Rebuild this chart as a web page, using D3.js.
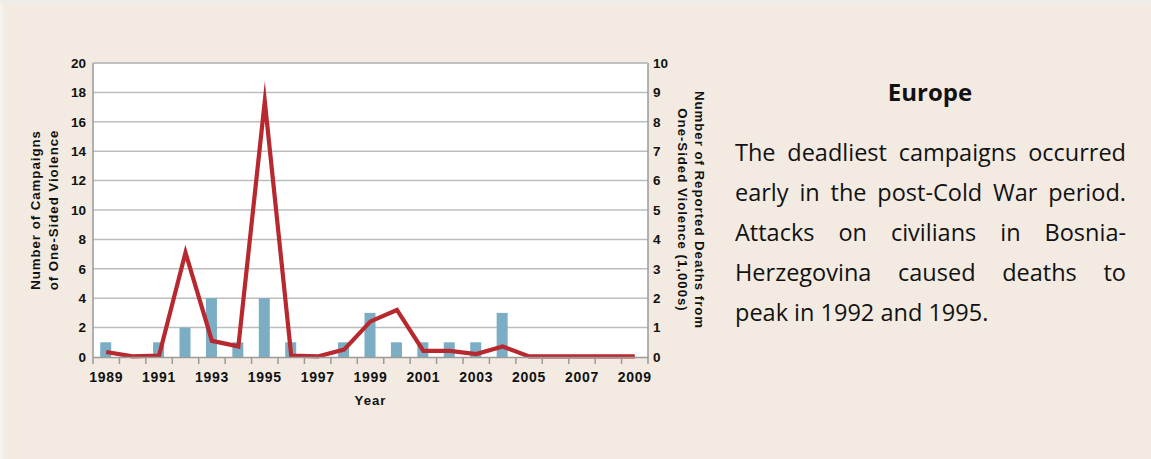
<!DOCTYPE html>
<html>
<head>
<meta charset="utf-8">
<script src="https://cdn.jsdelivr.net/npm/d3@7"></script>
<style>
  html, body { margin: 0; padding: 0; background: #f3ebe2; }
  svg { display: block; }
</style>
</head>
<body>
<script>
// ---- Data ----
const years = d3.range(1989, 2010);
const campaigns = [1, 0, 1, 2, 4, 1, 4, 1, 0, 1, 3, 1, 1, 1, 1, 3, 0, 0, 0, 0, 0];
const deaths = [0.17, 0.02, 0.05, 3.55, 0.55, 0.36, 8.7, 0.05, 0.02, 0.25, 1.21, 1.6, 0.21, 0.21, 0.1, 0.36, 0.02, 0.02, 0.02, 0.02, 0.02];
const leftTicks = [0, 2, 4, 6, 8, 10, 12, 14, 16, 18, 20];
const rightTicks = [0, 1, 2, 3, 4, 5, 6, 7, 8, 9, 10];
const yearLabels = [1989, 1991, 1993, 1995, 1997, 1999, 2001, 2003, 2005, 2007, 2009];
const title = "Europe";
const paragraphLines = [
  "The deadliest campaigns occurred",
  "early in the post-Cold War period.",
  "Attacks on civilians in Bosnia-",
  "Herzegovina caused deaths to",
  "peak in 1992 and 1995."
];

const W = 1151, H = 459;
const plot = { left: 93, right: 648, top: 63, bottom: 357 };

const svg = d3.select("body").append("svg").attr("width", W).attr("height", H);

// panel background with soft shadow edges
const defs = svg.append("defs");
const gTop = defs.append("linearGradient").attr("id", "shTop").attr("x1", 0).attr("x2", 0).attr("y1", 0).attr("y2", 1);
gTop.append("stop").attr("offset", 0).attr("stop-color", "#ededed");
gTop.append("stop").attr("offset", 1).attr("stop-color", "#f3ebe2");
const gLeft = defs.append("linearGradient").attr("id", "shLeft").attr("x1", 0).attr("x2", 1).attr("y1", 0).attr("y2", 0);
gLeft.append("stop").attr("offset", 0).attr("stop-color", "#f6f4f2");
gLeft.append("stop").attr("offset", 1).attr("stop-color", "#f3ebe2");
svg.append("rect").attr("width", W).attr("height", H).attr("fill", "#f3ebe2");
svg.append("rect").attr("width", W).attr("height", 6).attr("fill", "url(#shTop)");
svg.append("rect").attr("width", 5).attr("height", H).attr("y", 4).attr("fill", "url(#shLeft)");

// scales
const x = d3.scaleBand().domain(years).range([plot.left, plot.right]).padding(0);
const yL = d3.scaleLinear().domain([0, 20]).range([plot.bottom, plot.top]);
const yR = d3.scaleLinear().domain([0, 10]).range([plot.bottom, plot.top]);

// plot background
svg.append("rect").attr("x", plot.left).attr("y", plot.top)
  .attr("width", plot.right - plot.left).attr("height", plot.bottom - plot.top)
  .attr("fill", "#ffffff");

// gridlines
svg.append("g").selectAll("line").data(leftTicks.filter(d => d > 0)).join("line")
  .attr("x1", plot.left).attr("x2", plot.right)
  .attr("y1", d => yL(d)).attr("y2", d => yL(d))
  .attr("stroke", "#bdbdbd").attr("stroke-width", 1.5);

// bars
const barW = 11;
svg.append("g").selectAll("rect").data(years).join("rect")
  .attr("x", (d) => x(d) + x.bandwidth() / 2 - barW / 2 - 0.5)
  .attr("width", barW)
  .attr("y", (d, i) => yL(campaigns[i]))
  .attr("height", (d, i) => plot.bottom - yL(campaigns[i]))
  .attr("fill", "#7badc4");

// axes frame
const axisColor = "#9a9a9a";
svg.append("line").attr("x1", plot.left).attr("x2", plot.left).attr("y1", plot.top).attr("y2", plot.bottom)
  .attr("stroke", axisColor).attr("stroke-width", 1.5);
svg.append("line").attr("x1", plot.right).attr("x2", plot.right).attr("y1", plot.top).attr("y2", plot.bottom)
  .attr("stroke", axisColor).attr("stroke-width", 1.5);
svg.append("line").attr("x1", plot.left).attr("x2", plot.right).attr("y1", plot.top).attr("y2", plot.top)
  .attr("stroke", "#bdbdbd").attr("stroke-width", 1.5);

// line
const line = d3.line()
  .x((d, i) => x(years[i]) + x.bandwidth() / 2)
  .y(d => yR(d));
svg.append("path").datum(deaths)
  .attr("d", line)
  .attr("fill", "none")
  .attr("stroke", "#b8282f")
  .attr("stroke-width", 4.2)
  .attr("stroke-linejoin", "miter")
  .attr("stroke-miterlimit", 30);

// x axis
const tickFont = "'Liberation Sans', Arial, sans-serif";
const xAxis = d3.axisBottom(x)
  .tickValues(yearLabels)
  .tickSize(0)
  .tickPadding(15)
  .tickFormat(d3.format("d"));
const gx = svg.append("g").attr("transform", `translate(0,${plot.bottom})`).call(xAxis);
gx.select(".domain").attr("stroke", axisColor).attr("stroke-width", 1.5);
gx.selectAll("text").attr("font-family", tickFont).attr("font-weight", "bold")
  .attr("font-size", 14).attr("fill", "#111").attr("letter-spacing", "0.7px");
// tick marks at band boundaries
const boundaries = years.map(d => x(d)).concat([plot.right]);
svg.append("g").selectAll("line").data(boundaries).join("line")
  .attr("x1", d => d).attr("x2", d => d)
  .attr("y1", plot.bottom).attr("y2", plot.bottom + 7)
  .attr("stroke", axisColor).attr("stroke-width", 1.5);

// left axis labels
const gl = svg.append("g").attr("transform", `translate(${plot.left},0)`)
  .call(d3.axisLeft(yL).tickValues(leftTicks).tickSize(0).tickPadding(7));
gl.select(".domain").remove();
gl.selectAll("text").attr("font-family", tickFont).attr("font-weight", "bold")
  .attr("font-size", 13.5).attr("fill", "#111");

// right axis labels
const gr = svg.append("g").attr("transform", `translate(${plot.right},0)`)
  .call(d3.axisRight(yR).tickValues(rightTicks).tickSize(0).tickPadding(5));
gr.select(".domain").remove();
gr.selectAll("text").attr("font-family", tickFont).attr("font-weight", "bold")
  .attr("font-size", 13.5).attr("fill", "#111");

// axis titles
const titleAttrs = (sel) => sel.attr("font-family", tickFont).attr("font-weight", "bold")
  .attr("font-size", 13.2).attr("fill", "#111").attr("text-anchor", "middle").attr("letter-spacing", "1px");
const midY = (plot.top + plot.bottom) / 2;
svg.append("text").call(titleAttrs)
  .attr("transform", `translate(${(plot.left + plot.right) / 2},${405}) `)
  .text("Year");
const lt = svg.append("text").call(titleAttrs).attr("transform", `translate(40,${midY}) rotate(-90)`);
lt.append("tspan").attr("x", 0).attr("dy", 0).text("Number of Campaigns");
lt.append("tspan").attr("x", 0).attr("dy", 18).text("of One-Sided Violence");
const rt = svg.append("text").call(titleAttrs).attr("transform", `translate(695,${midY}) rotate(90)`);
rt.append("tspan").attr("x", 0).attr("dy", 0).text("Number of Reported Deaths from");
rt.append("tspan").attr("x", 0).attr("dy", 17).text("One-Sided Violence (1,000s)");

// right side text
const textFont = "'Open Sans', 'Noto Sans', sans-serif";
svg.append("text").attr("x", 930).attr("y", 101)
  .attr("text-anchor", "middle").attr("font-family", textFont)
  .attr("font-weight", "bold").attr("font-size", 24).attr("fill", "#111")
  .text(title);

const textLeft = 735, textRight = 1126, fs = 23.5;
paragraphLines.forEach((ln, li) => {
  const baseline = 161 + li * 40;
  const words = ln.split(" ");
  const g = svg.append("text").attr("font-family", textFont).attr("font-size", fs).attr("fill", "#111");
  const tsp = words.map(w => g.append("tspan").attr("y", baseline).text(w));
  const widths = tsp.map(t => t.node().getComputedTextLength());
  const total = d3.sum(widths);
  const last = li === paragraphLines.length - 1;
  const space = last ? fs * 0.26 : (textRight - textLeft - total) / (words.length - 1);
  let cx = textLeft;
  tsp.forEach((t, i) => { t.attr("x", cx); cx += widths[i] + space; });
});
</script>
</body>
</html>
